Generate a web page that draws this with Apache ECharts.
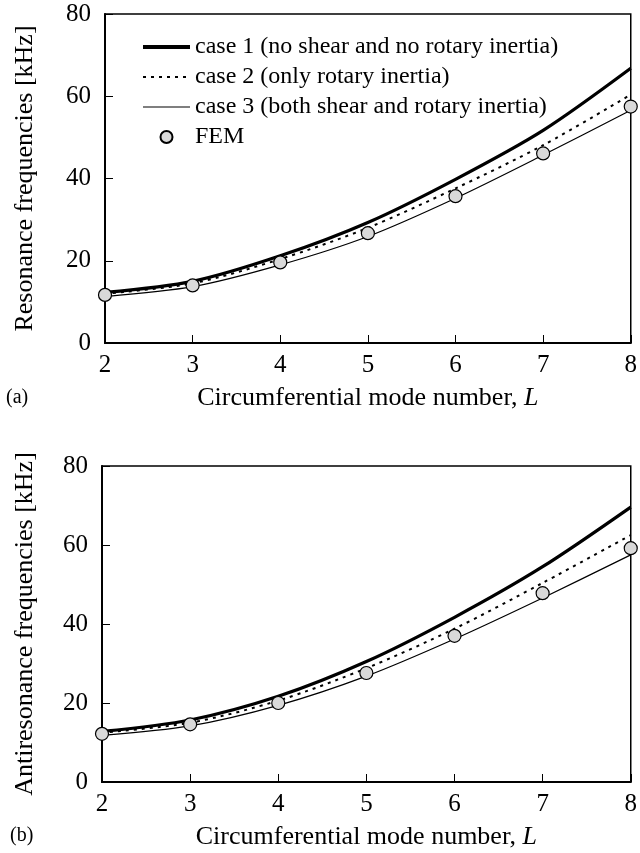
<!DOCTYPE html>
<html style="height: 100%">
<head>
	<meta charset="utf-8">
	<script src="https://cdn.jsdelivr.net/npm/echarts@6/dist/echarts.min.js"></script>
</head>
<body style="height: 100%; margin: 0; background: #fff">
	<div id="container" style="width: 640px; height: 853px;"></div>
	<script type="text/javascript">
		// circumferential mode number L
		let modes = [2, 3, 4, 5, 6, 7, 8];
		let xTicks = [2, 3, 4, 5, 6, 7, 8];
		let yTicks = [0, 20, 40, 60, 80];

		// (a) resonance frequencies [kHz]
		let resCase1 = [12.3, 15.0, 21.2, 29.3, 39.8, 51.7, 66.8];
		let resCase2 = [12.0, 14.5, 20.4, 28.0, 37.6, 48.1, 60.4];
		let resCase3 = [11.3, 13.7, 19.0, 25.9, 35.2, 45.7, 56.6];
		let resFem = [11.7, 14.0, 19.6, 26.7, 35.7, 46.1, 57.5];

		// (b) antiresonance frequencies [kHz]
		let antiCase1 = [12.8, 15.7, 21.7, 30.5, 41.7, 54.5, 69.6];
		let antiCase2 = [12.5, 15.0, 20.6, 28.8, 38.8, 50.4, 62.5];
		let antiCase3 = [11.8, 14.2, 19.4, 26.8, 36.2, 46.6, 57.5];
		let antiFem = [12.2, 14.6, 20.0, 27.6, 37.0, 47.8, 59.2];

		let names = [
			'case 1 (no shear and no rotary inertia)',
			'case 2 (only rotary inertia)',
			'case 3 (both shear and rotary inertia)',
			'FEM'
		];

		const font = 'Liberation Serif';

		function pairs(ys) {
			return modes.map(function (m, i) { return [m, ys[i]]; });
		}

		function xAxis(idx) {
			return {
				gridIndex: idx,
				type: 'value',
				min: xTicks[0],
				max: xTicks[xTicks.length - 1],
				interval: 1,
				name: 'Circumferential mode number, {i|L}',
				nameLocation: 'middle',
				nameGap: 42,
				nameTextStyle: {
					fontFamily: font, fontSize: 26, color: '#000',
					rich: { i: { fontFamily: font, fontSize: 26, fontStyle: 'italic', color: '#000' } }
				},
				axisLine: { lineStyle: { color: '#000', width: 2 } },
				axisTick: { inside: true, length: 8, lineStyle: { color: '#000', width: 1 } },
				axisLabel: { fontFamily: font, fontSize: 25, color: '#000', margin: 10 },
				splitLine: { show: false }
			};
		}

		function yAxis(idx, title, gap) {
			return {
				gridIndex: idx,
				type: 'value',
				min: yTicks[0],
				max: yTicks[yTicks.length - 1],
				interval: 20,
				name: title,
				nameLocation: 'middle',
				nameGap: gap,
				nameTextStyle: { fontFamily: font, fontSize: 26, color: '#000' },
				axisLine: { lineStyle: { color: '#000', width: 2 } },
				axisTick: { inside: true, length: 8, lineStyle: { color: '#000', width: 1 } },
				axisLabel: { fontFamily: font, fontSize: 25, color: '#000', margin: 14 },
				splitLine: { show: false }
			};
		}

		function curves(idx, c1, c2, c3, fem) {
			let base = { type: 'line', xAxisIndex: idx, yAxisIndex: idx, symbol: 'none', smooth: 0.3, silent: true };
			// itemStyle opacity 0 hides the dot ECharts puts on line legend icons
			return [
				Object.assign({}, base, { name: names[0], data: pairs(c1), lineStyle: { color: '#000', width: 3.2 }, itemStyle: { color: '#000', opacity: 0 } }),
				Object.assign({}, base, { name: names[1], data: pairs(c2), lineStyle: { color: '#000', width: 2, type: [3, 5] }, itemStyle: { color: '#000', opacity: 0 } }),
				Object.assign({}, base, { name: names[2], data: pairs(c3), lineStyle: { color: '#000', width: 1.2 }, itemStyle: { color: '#000', opacity: 0 } }),
				{
					name: names[3], type: 'scatter', xAxisIndex: idx, yAxisIndex: idx,
					data: pairs(fem), symbol: 'circle', symbolSize: 13, clip: false, z: 5,
					itemStyle: { color: '#d9d9d9', borderColor: '#000', borderWidth: 1.2, opacity: 1 }
				}
			];
		}

		let dom = document.getElementById('container');
		let myChart = echarts.init(dom, null, { renderer: 'canvas' });

		let option = {
			animation: false,
			backgroundColor: '#fff',
			grid: [
				{ left: 105, right: 8, top: 14, height: 329, show: true, borderColor: '#000', borderWidth: 1.5, backgroundColor: 'transparent' },
				{ left: 102, right: 1, top: 466, height: 316, show: true, borderColor: '#000', borderWidth: 1.5, backgroundColor: 'transparent' }
			],
			legend: {
				data: [
					{ name: names[0], itemStyle: { opacity: 0 }, lineStyle: { color: '#000', width: 4 } },
					{ name: names[1], itemStyle: { opacity: 0 }, lineStyle: { color: '#000', width: 2, type: [3, 5] } },
					{ name: names[2], itemStyle: { opacity: 0 }, lineStyle: { color: '#000', width: 1.2 } },
					{ name: names[3] }
				],
				orient: 'vertical',
				left: 136,
				top: 30,
				itemWidth: 47,
				itemHeight: 12,
				itemGap: 6,
				selectedMode: false,
				textStyle: { fontFamily: font, fontSize: 24, color: '#000' }
			},
			xAxis: [xAxis(0), xAxis(1)],
			yAxis: [
				yAxis(0, 'Resonance frequencies [kHz]', 67),
				yAxis(1, 'Antiresonance frequencies [kHz]', 64)
			],
			graphic: [
				{ type: 'text', left: 6, top: 388, style: { text: '(a)', font: '20px "Liberation Serif"', fill: '#000' } },
				{ type: 'text', left: 10, top: 826, style: { text: '(b)', font: '20px "Liberation Serif"', fill: '#000' } }
			],
			series: [].concat(
				curves(0, resCase1, resCase2, resCase3, resFem),
				curves(1, antiCase1, antiCase2, antiCase3, antiFem)
			)
		};

		myChart.setOption(option);
	</script>
</body>
</html>
